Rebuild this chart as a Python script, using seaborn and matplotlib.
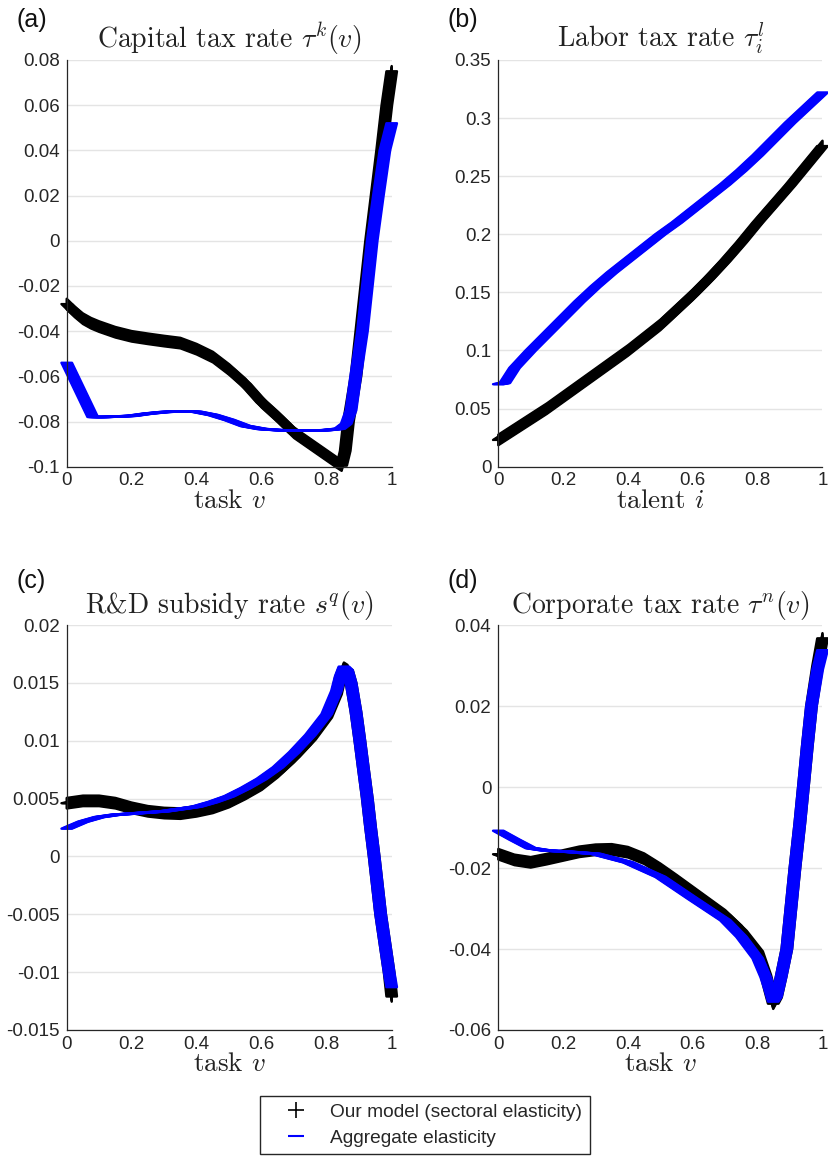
import numpy as np
import matplotlib
matplotlib.use("Agg")
import matplotlib.pyplot as plt
import matplotlib.patheffects as pe
from matplotlib.lines import Line2D
import seaborn as sns

# (a) capital tax rate
a_x_black = [0, 0.025, 0.05, 0.075, 0.1, 0.15, 0.2, 0.25, 0.3, 0.35, 0.4, 0.45, 0.5, 0.55, 0.6,
             0.65, 0.7, 0.75, 0.8, 0.83, 0.846, 0.857, 0.867, 0.89, 0.905, 0.92, 0.935, 0.952,
             0.969, 0.985, 1.0]
a_y_black = [-0.028, -0.0315, -0.0345, -0.0365, -0.038, -0.0405, -0.0423, -0.0434, -0.0444,
             -0.0453, -0.048, -0.0515, -0.057, -0.0634, -0.0715, -0.078, -0.085, -0.090, -0.095,
             -0.098, -0.0995, -0.093, -0.08, -0.06, -0.04, -0.02, 0.0, 0.02, 0.04, 0.06, 0.075]
a_x_blue = [0, 0.08, 0.12, 0.2, 0.25, 0.3, 0.35, 0.4, 0.45, 0.5, 0.55, 0.6, 0.65, 0.7, 0.75,
            0.8, 0.84, 0.86, 0.875, 0.889, 0.91, 0.925, 0.94, 0.959, 0.979, 1.0]
a_y_blue = [-0.054, -0.078, -0.078, -0.0775, -0.0765, -0.0758, -0.0755, -0.0757, -0.0771, -0.0793,
            -0.082, -0.0833, -0.0838, -0.0841, -0.0841, -0.0838, -0.0832, -0.081, -0.075, -0.06,
            -0.04, -0.02, 0.0, 0.02, 0.04, 0.052]

# (b) labor tax rate
b_x_black = [0, 0.05, 0.1, 0.15, 0.2, 0.25, 0.3, 0.35, 0.4, 0.45, 0.5, 0.55, 0.6, 0.65, 0.7,
             0.75, 0.8, 0.85, 0.9, 0.95, 1.0]
b_y_black = [0.023, 0.032, 0.041, 0.050, 0.060, 0.070, 0.080, 0.090, 0.100, 0.111, 0.122, 0.135,
             0.148, 0.162, 0.177, 0.193, 0.210, 0.226, 0.242, 0.259, 0.276]
b_x_blue = [0, 0.02, 0.05, 0.1, 0.15, 0.2, 0.25, 0.3, 0.35, 0.4, 0.45, 0.5, 0.55, 0.6, 0.65,
            0.7, 0.75, 0.8, 0.85, 0.9, 0.95, 1.0]
b_y_blue = [0.071, 0.072, 0.085, 0.100, 0.114, 0.128, 0.142, 0.155, 0.167, 0.178, 0.189, 0.200,
            0.210, 0.221, 0.232, 0.243, 0.255, 0.268, 0.282, 0.296, 0.309, 0.322]

# (c) R&D subsidy rate
c_x_black = [0, 0.05, 0.1, 0.15, 0.2, 0.25, 0.3, 0.35, 0.4, 0.45, 0.5, 0.55, 0.6, 0.65, 0.7,
             0.75, 0.8, 0.83, 0.842, 0.853, 0.864, 0.875, 0.89, 0.902, 0.912, 0.925, 0.935,
             0.946, 0.956, 0.966, 0.979, 0.992, 1.0]
c_y_black = [0.0046, 0.0048, 0.0048, 0.0046, 0.0042, 0.0039, 0.00375, 0.0037, 0.0039, 0.0042,
             0.0047, 0.0054, 0.0062, 0.0073, 0.0086, 0.0101, 0.012, 0.014, 0.0155, 0.0163,
             0.0161, 0.015, 0.0125, 0.01, 0.0078, 0.005, 0.0025, 0.0, -0.0025, -0.005, -0.0075,
             -0.01, -0.0121]
c_x_blue = [0, 0.05, 0.1, 0.15, 0.2, 0.3, 0.4, 0.45, 0.5, 0.55, 0.6, 0.65, 0.7, 0.75, 0.8,
            0.83, 0.842, 0.853, 0.864, 0.875, 0.89, 0.902, 0.912, 0.925, 0.935, 0.946, 0.956,
            0.966, 0.979, 0.992, 1.0]
c_y_blue = [0.0024, 0.003, 0.0034, 0.0036, 0.0037, 0.0039, 0.0043, 0.0047, 0.0052, 0.0059,
            0.0067, 0.0077, 0.009, 0.0105, 0.0123, 0.0143, 0.0156, 0.0164, 0.0161, 0.015,
            0.0125, 0.01, 0.0078, 0.005, 0.0025, 0.0, -0.0025, -0.005, -0.0075, -0.01, -0.0113]

# (d) corporate tax rate
d_x_black = [0, 0.05, 0.1, 0.15, 0.2, 0.25, 0.3, 0.35, 0.4, 0.45, 0.5, 0.55, 0.6, 0.65, 0.7,
             0.75, 0.8, 0.825, 0.838, 0.848, 0.858, 0.872, 0.89, 0.915, 0.93, 0.941, 0.953,
             0.966, 0.985, 1.0]
d_y_black = [-0.0166, -0.018, -0.0186, -0.0178, -0.0169, -0.016, -0.0155, -0.0154, -0.0161,
             -0.0177, -0.0202, -0.023, -0.0259, -0.0288, -0.0317, -0.0355, -0.0406, -0.0464,
             -0.0505, -0.0535, -0.052, -0.047, -0.04, -0.02, -0.009, 0.0, 0.01, 0.02, 0.03,
             0.0367]
d_x_blue = [0, 0.05, 0.1, 0.15, 0.2, 0.3, 0.4, 0.5, 0.6, 0.7, 0.75, 0.8, 0.825, 0.838, 0.848,
            0.858, 0.872, 0.89, 0.915, 0.93, 0.941, 0.953, 0.966, 0.985, 1.0]
d_y_blue = [-0.0108, -0.013, -0.0151, -0.0157, -0.0159, -0.0165, -0.0186, -0.0222, -0.0276,
            -0.0329, -0.037, -0.0423, -0.047, -0.0502, -0.053, -0.0518, -0.047, -0.04, -0.02,
            -0.009, 0.0, 0.01, 0.02, 0.029, 0.0338]

panel_letters = ["(a)", "(b)", "(c)", "(d)"]
titles = [r"Capital tax rate $\tau^k(v)$",
          r"Labor tax rate $\tau^l_i$",
          r"R&D subsidy rate $s^q(v)$",
          r"Corporate tax rate $\tau^n(v)$"]
xlabels = [r"task $v$", r"talent $i$", r"task $v$", r"task $v$"]
x_ticks = [0, 0.2, 0.4, 0.6, 0.8, 1]
x_ticklabels = ["0", "0.2", "0.4", "0.6", "0.8", "1"]
y_ticks = [[-0.1, -0.08, -0.06, -0.04, -0.02, 0, 0.02, 0.04, 0.06, 0.08],
           [0, 0.05, 0.1, 0.15, 0.2, 0.25, 0.3, 0.35],
           [-0.015, -0.01, -0.005, 0, 0.005, 0.01, 0.015, 0.02],
           [-0.06, -0.04, -0.02, 0, 0.02, 0.04]]
y_ticklabels = [["-0.1", "-0.08", "-0.06", "-0.04", "-0.02", "0", "0.02", "0.04", "0.06", "0.08"],
                ["0", "0.05", "0.1", "0.15", "0.2", "0.25", "0.3", "0.35"],
                ["-0.015", "-0.01", "-0.005", "0", "0.005", "0.01", "0.015", "0.02"],
                ["-0.06", "-0.04", "-0.02", "0", "0.02", "0.04"]]
legend_labels = ["Our model (sectoral elasticity)", "Aggregate elasticity"]

black_series = [(a_x_black, a_y_black), (b_x_black, b_y_black), (c_x_black, c_y_black), (d_x_black, d_y_black)]
blue_series = [(a_x_blue, a_y_blue), (b_x_blue, b_y_blue), (c_x_blue, c_y_blue), (d_x_blue, d_y_blue)]

sns.set_style("white")
plt.rcParams["font.family"] = ["Liberation Sans", "DejaVu Sans"]
plt.rcParams["mathtext.fontset"] = "cm"
plt.rcParams["axes.unicode_minus"] = False

GRAY = "#262626"
BLUE = "#0000ff"


def pen(color, plus):
    # marker '+' / '_' drawn densely in the original -> sweep a short stroke along the curve
    offs = np.linspace(-3.8, 3.8, 13)
    fx = [pe.Stroke(offset=(d, 0), linewidth=1.7, foreground=color) for d in offs]
    if plus:
        fx += [pe.Stroke(offset=(0, d), linewidth=1.7, foreground=color) for d in offs]
    return fx


fig = plt.figure(figsize=(8.29, 11.6), dpi=100)
W, H = 829, 1160
boxes = [(66.7, 60, 391.7, 466.7), (498.3, 60, 822.5, 466.7),
         (66.7, 625, 391.7, 1030), (498.3, 625, 822.5, 1030)]
letter_pos = [(17, 20), (448, 20), (17, 581), (448, 581)]

for k in range(4):
    l, t, r, b = boxes[k]
    ax = fig.add_axes([l / W, 1 - b / H, (r - l) / W, (b - t) / H])
    bx, by = black_series[k]
    ux, uy = blue_series[k]
    sns.lineplot(x=bx, y=by, ax=ax, color="k", sort=False, estimator=None, lw=1.7,
                 path_effects=pen("k", True), clip_on=False)
    sns.lineplot(x=ux, y=uy, ax=ax, color=BLUE, sort=False, estimator=None, lw=1.7,
                 path_effects=pen(BLUE, False), clip_on=False)
    ax.set_xlim(0, 1)
    ax.set_ylim(y_ticks[k][0], y_ticks[k][-1])
    ax.set_xticks(x_ticks)
    ax.set_xticklabels(x_ticklabels)
    ax.set_yticks(y_ticks[k])
    ax.set_yticklabels(y_ticklabels[k])
    ax.yaxis.grid(True, color="#e4e4e4", lw=1)
    ax.xaxis.grid(False)
    ax.set_axisbelow(True)
    for s in ["top", "right"]:
        ax.spines[s].set_visible(False)
    for s in ["left", "bottom"]:
        ax.spines[s].set_color(GRAY)
        ax.spines[s].set_linewidth(0.9)
    ax.tick_params(axis="both", direction="in", length=3, width=0.8, color=GRAY,
                   labelsize=13.5, labelcolor=GRAY)
    ax.tick_params(axis="y", pad=5)
    ax.tick_params(axis="x", pad=4)
    ax.set_title(titles[k], fontsize=20, color="#222222", pad=9, family="cmr10")
    ax.set_xlabel(xlabels[k], fontsize=19.5, color="#222222", labelpad=0, family="cmr10")
    ax.set_ylabel("")
    fig.text(letter_pos[k][0] / W, 1 - letter_pos[k][1] / H, panel_letters[k],
             fontsize=18, color="#111111", va="center", ha="left")

handles = [Line2D([], [], color="k", marker="+", linestyle="None", markersize=12, markeredgewidth=1.2),
           Line2D([], [], color=BLUE, marker="_", linestyle="None", markersize=12, markeredgewidth=1.5)]
leg = fig.legend(handles, legend_labels, loc="center", bbox_to_anchor=(425 / W, 1 - 1125 / H),
                 fontsize=13.8, frameon=True, fancybox=False, edgecolor=GRAY, framealpha=1,
                 borderpad=0.4, handlelength=2.95, handletextpad=0.3, labelspacing=0.45)
leg.get_frame().set_linewidth(1.0)

fig.savefig("out.png", dpi=100)
